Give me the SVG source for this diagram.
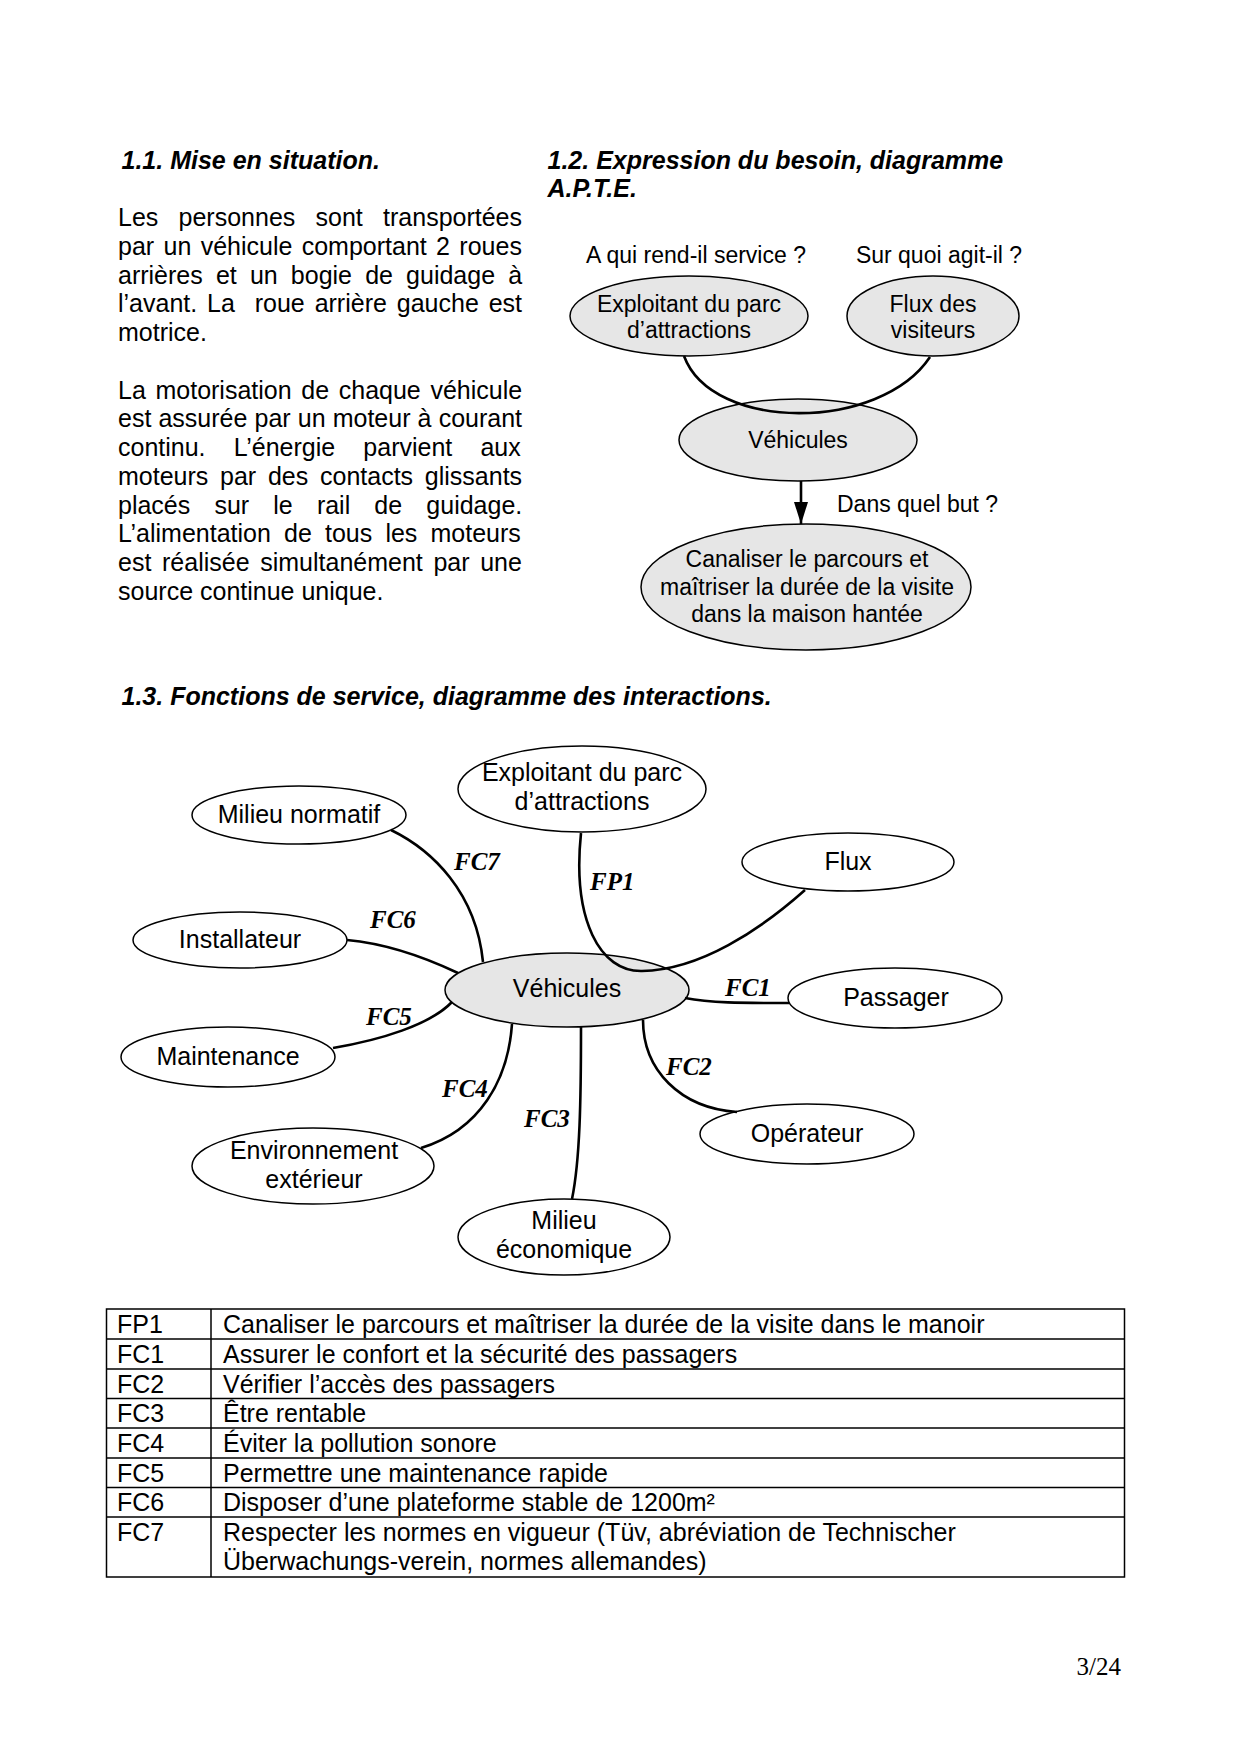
<svg xmlns="http://www.w3.org/2000/svg" width="1240" height="1754" viewBox="0 0 1240 1754">
<defs>
<style>
text{font-family:"Liberation Sans",Arial,sans-serif;fill:#000}
.h{font-size:25px;font-weight:bold;font-style:italic}
.p{font-size:25px}
.d{font-size:23px;text-anchor:middle}
.n{font-size:25px;text-anchor:middle}
.lab{font-family:"Liberation Serif","Times New Roman",serif;font-size:25px;font-weight:bold;font-style:italic}
.eg{fill:#e6e6e6;stroke:#000;stroke-width:1.5}
.ew{fill:#fff;stroke:#000;stroke-width:1.5}
.c{fill:none;stroke:#000;stroke-width:2.6}
.tb{fill:none;stroke:#000;stroke-width:1.5}
.pg{font-family:"Liberation Serif","Times New Roman",serif;font-size:25px;text-anchor:end}
</style>
<marker id="arr" viewBox="0 0 22 14" refX="22" refY="7" markerWidth="22" markerHeight="14" markerUnits="userSpaceOnUse" orient="auto">
<path d="M0 0 L22 7 L0 14 z" fill="#000"/>
</marker>
</defs>
<rect width="1240" height="1754" fill="#fff"/>

<!-- Section 1.1 -->
<g id="section-1-1">
<text class="h" x="121.5" y="168.5">1.1. Mise en situation.</text>
<text class="p" x="118" y="226" word-spacing="13.3">Les personnes sont transportées</text>
<text class="p" x="118" y="254.75" word-spacing="2.4">par un véhicule comportant 2 roues</text>
<text class="p" x="118" y="283.5" word-spacing="6.2">arrières et un bogie de guidage à</text>
<text class="p" x="118" y="312.25" word-spacing="2.95" xml:space="preserve">l’avant. La  roue arrière gauche est</text>
<text class="p" x="118" y="341">motrice.</text>
<text class="p" x="118" y="398.5" word-spacing="2.7">La motorisation de chaque véhicule</text>
<text class="p" x="118" y="427.25" word-spacing="0.17">est assurée par un moteur à courant</text>
<text class="p" x="118" y="456" word-spacing="21.2">continu. L’énergie parvient aux</text>
<text class="p" x="118" y="484.75" word-spacing="4.8">moteurs par des contacts glissants</text>
<text class="p" x="118" y="513.5" word-spacing="17.2">placés sur le rail de guidage.</text>
<text class="p" x="118" y="542.25" word-spacing="6.2">L’alimentation de tous les moteurs</text>
<text class="p" x="118" y="571" word-spacing="3.7">est réalisée simultanément par une</text>
<text class="p" x="118" y="599.75">source continue unique.</text>
</g>

<!-- Section 1.2 -->
<g id="section-1-2">
<text class="h" x="547.5" y="168.5">1.2. Expression du besoin, diagramme</text>
<text class="h" x="547.5" y="197.25">A.P.T.E.</text>
<text class="d" x="696" y="263">A qui rend-il service ?</text>
<text class="d" x="939" y="263">Sur quoi agit-il ?</text>
<text class="d" x="801" y="512" style="text-anchor:start" dx="36">Dans quel but ?</text>
</g>

<g id="apte-exploitant">
<ellipse class="eg" cx="689" cy="316" rx="119" ry="40"/>
<text class="d" x="689" y="312">Exploitant du parc</text>
<text class="d" x="689" y="338">d’attractions</text>
</g>
<g id="apte-flux">
<ellipse class="eg" cx="933" cy="316" rx="86" ry="40"/>
<text class="d" x="933" y="312">Flux des</text>
<text class="d" x="933" y="338">visiteurs</text>
</g>
<g id="apte-vehicules">
<ellipse class="eg" cx="798" cy="440" rx="119" ry="41"/>
<text class="d" x="798" y="448">Véhicules</text>
</g>
<g id="apte-but">
<ellipse class="eg" cx="806" cy="587" rx="165" ry="63"/>
<text class="d" x="807" y="567">Canaliser le parcours et</text>
<text class="d" x="807" y="594.5">maîtriser la durée de la visite</text>
<text class="d" x="807" y="622">dans la maison hantée</text>
</g>
<g id="apte-connectors">
<path class="c" d="M684 356 C712 432 880 432 930 357"/>
<line class="c" x1="801" y1="481" x2="801" y2="524" marker-end="url(#arr)"/>
</g>

<!-- Section 1.3 -->
<text class="h" x="121.5" y="705">1.3. Fonctions de service, diagramme des interactions.</text>

<g id="node-milieu-normatif">
<ellipse class="ew" cx="299" cy="815" rx="107" ry="29"/>
<text class="n" x="299" y="823">Milieu normatif</text>
</g>
<g id="node-exploitant">
<ellipse class="ew" cx="582" cy="789" rx="124" ry="43"/>
<text class="n" x="582" y="781">Exploitant du parc</text>
<text class="n" x="582" y="810">d’attractions</text>
</g>
<g id="node-flux">
<ellipse class="ew" cx="848" cy="862" rx="106" ry="29"/>
<text class="n" x="848" y="870">Flux</text>
</g>
<g id="node-installateur">
<ellipse class="ew" cx="240" cy="940" rx="107" ry="28"/>
<text class="n" x="240" y="948">Installateur</text>
</g>
<g id="node-vehicules">
<ellipse class="eg" cx="567" cy="990" rx="122" ry="37"/>
<text class="n" x="567" y="997">Véhicules</text>
</g>
<g id="node-passager">
<ellipse class="ew" cx="895" cy="998" rx="107" ry="30"/>
<text class="n" x="896" y="1006">Passager</text>
</g>
<g id="node-maintenance">
<ellipse class="ew" cx="228" cy="1057" rx="107" ry="30"/>
<text class="n" x="228" y="1065">Maintenance</text>
</g>
<g id="node-operateur">
<ellipse class="ew" cx="807" cy="1134" rx="107" ry="30"/>
<text class="n" x="807" y="1142">Opérateur</text>
</g>
<g id="node-environnement">
<ellipse class="ew" cx="313" cy="1166" rx="121" ry="38"/>
<text class="n" x="314" y="1159">Environnement</text>
<text class="n" x="314" y="1188">extérieur</text>
</g>
<g id="node-milieu-economique">
<ellipse class="ew" cx="564" cy="1237" rx="106" ry="38"/>
<text class="n" x="564" y="1229">Milieu</text>
<text class="n" x="564" y="1258">économique</text>
</g>

<g id="connectors">
<path class="c" d="M391 830 C432 850 476 892 483 962"/>
<path class="c" d="M581 833 C572 920 600 972 642 971 C700 970 760 930 805 890"/>
<path class="c" d="M347 940 C380 943 420 955 458 973"/>
<path class="c" d="M452 1002 C430 1025 380 1040 333 1048"/>
<path class="c" d="M512 1024 C508 1080 480 1130 421 1148"/>
<path class="c" d="M581 1027 C581 1100 580 1160 572 1199"/>
<path class="c" d="M643 1020 C643 1070 680 1108 737 1112"/>
<path class="c" d="M685 998 C710 1003 740 1003 789 1003"/>
<text class="lab" x="454" y="870">FC7</text>
<text class="lab" x="590" y="890">FP1</text>
<text class="lab" x="370" y="928">FC6</text>
<text class="lab" x="366" y="1025">FC5</text>
<text class="lab" x="442" y="1097">FC4</text>
<text class="lab" x="524" y="1127">FC3</text>
<text class="lab" x="666" y="1075">FC2</text>
<text class="lab" x="725" y="996">FC1</text>
</g>

<!-- Table -->
<g id="table">
<rect class="tb" x="106.5" y="1309" width="1018" height="268"/>
<line class="tb" x1="211" y1="1309" x2="211" y2="1577"/>
<line class="tb" x1="106.5" y1="1339" x2="1124.5" y2="1339"/>
<line class="tb" x1="106.5" y1="1369" x2="1124.5" y2="1369"/>
<line class="tb" x1="106.5" y1="1398.5" x2="1124.5" y2="1398.5"/>
<line class="tb" x1="106.5" y1="1428" x2="1124.5" y2="1428"/>
<line class="tb" x1="106.5" y1="1458" x2="1124.5" y2="1458"/>
<line class="tb" x1="106.5" y1="1487.5" x2="1124.5" y2="1487.5"/>
<line class="tb" x1="106.5" y1="1517" x2="1124.5" y2="1517"/>
<text class="p" x="117" y="1333">FP1</text>
<text class="p" x="223" y="1333">Canaliser le parcours et maîtriser la durée de la visite dans le manoir</text>
<text class="p" x="117" y="1363">FC1</text>
<text class="p" x="223" y="1363">Assurer le confort et la sécurité des passagers</text>
<text class="p" x="117" y="1392.5">FC2</text>
<text class="p" x="223" y="1392.5">Vérifier l’accès des passagers</text>
<text class="p" x="117" y="1422">FC3</text>
<text class="p" x="223" y="1422">Être rentable</text>
<text class="p" x="117" y="1452">FC4</text>
<text class="p" x="223" y="1452">Éviter la pollution sonore</text>
<text class="p" x="117" y="1481.5">FC5</text>
<text class="p" x="223" y="1481.5">Permettre une maintenance rapide</text>
<text class="p" x="117" y="1511">FC6</text>
<text class="p" x="223" y="1511">Disposer d’une plateforme stable de 1200m²</text>
<text class="p" x="117" y="1541">FC7</text>
<text class="p" x="223" y="1541">Respecter les normes en vigueur (Tüv, abréviation de Technischer</text>
<text class="p" x="223" y="1569.5">Überwachungs-verein, normes allemandes)</text>
</g>

<text class="pg" x="1121" y="1675">3/24</text>
</svg>
